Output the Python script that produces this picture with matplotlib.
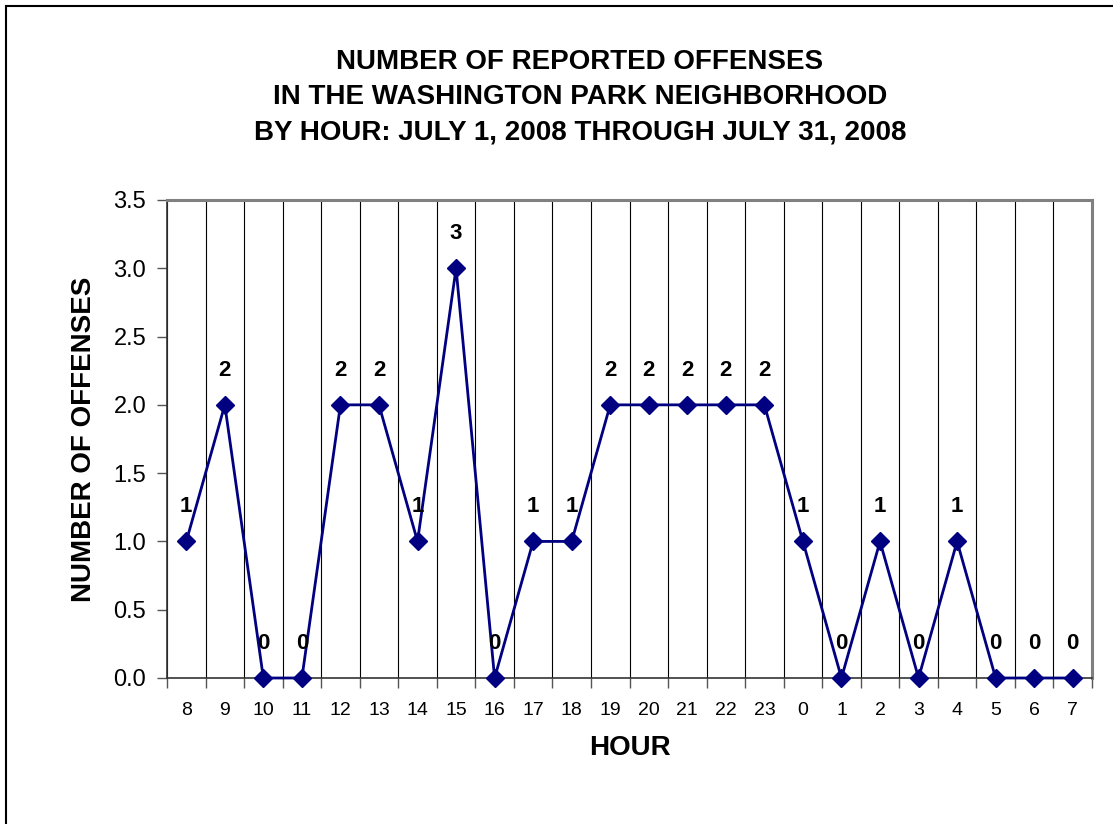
import numpy as np
import matplotlib.pyplot as plt
from matplotlib.patches import Rectangle

plt.rcParams['font.family'] = ['Liberation Sans', 'DejaVu Sans']

hours = ["8", "9", "10", "11", "12", "13", "14", "15", "16", "17", "18", "19",
         "20", "21", "22", "23", "0", "1", "2", "3", "4", "5", "6", "7"]
offenses = [1, 2, 0, 0, 2, 2, 1, 3, 0, 1, 1, 2,
            2, 2, 2, 2, 1, 0, 1, 0, 1, 0, 0, 0]
yticks = [0.0, 0.5, 1.0, 1.5, 2.0, 2.5, 3.0, 3.5]

fig = plt.figure(figsize=(11.13, 8.24), dpi=100)
# chart area border
fig.patches.append(Rectangle((6 / 1113, -0.1), 1.2, 1 - 6 / 824 + 0.1,
                             transform=fig.transFigure, fill=False,
                             edgecolor='black', linewidth=1.5))

ax = fig.add_axes([167 / 1113, 1 - 678 / 824, 925 / 1113, 478 / 824])
x = np.arange(len(hours))
ax.plot(x, offenses, color='#000080', linewidth=2, marker='D',
        markersize=9.5, markeredgecolor='#000080', markerfacecolor='#000080',
        zorder=3, clip_on=False)

for xi, v in zip(x, offenses):
    ax.annotate(str(v), (xi, v), xytext=(0, 25), textcoords='offset points',
                ha='center', va='center', fontsize=16, fontweight='bold')

ax.set_xlim(-0.5, len(hours) - 0.5)
ax.set_ylim(0, 3.5)
ax.set_xticks(x)
ax.set_xticklabels(hours, fontsize=14)
ax.set_xticks(np.arange(-0.5, len(hours)), minor=True)
ax.tick_params(axis='x', which='major', length=0, pad=17)
ax.tick_params(axis='x', which='minor', length=7, width=1, color='#555555')
ax.set_yticks(yticks)
ax.set_yticklabels([f"{t:.1f}" for t in yticks], fontsize=17)
ax.tick_params(axis='y', length=7, width=1, pad=8, color='#555555')
ax.grid(True, which='minor', axis='x', color='black', linewidth=0.8)

for side in ['top', 'right']:
    ax.spines[side].set_color('#808080')
    ax.spines[side].set_linewidth(2.2)
for side in ['left', 'bottom']:
    ax.spines[side].set_color('#333333')
    ax.spines[side].set_linewidth(1.2)

ax.set_xlabel("HOUR", fontsize=20, fontweight='bold', labelpad=12)
ax.set_ylabel("NUMBER OF OFFENSES", fontsize=20, fontweight='bold', labelpad=12)

titles = ["NUMBER OF REPORTED OFFENSES",
          "IN THE WASHINGTON PARK NEIGHBORHOOD",
          "BY HOUR: JULY 1, 2008 THROUGH JULY 31, 2008"]
for i, t in enumerate(titles):
    fig.text(580 / 1113, 1 - (62 + 35.5 * i) / 824, t, ha='center', va='center',
             fontsize=20, fontweight='bold')

fig.savefig("out.png", dpi=100)
